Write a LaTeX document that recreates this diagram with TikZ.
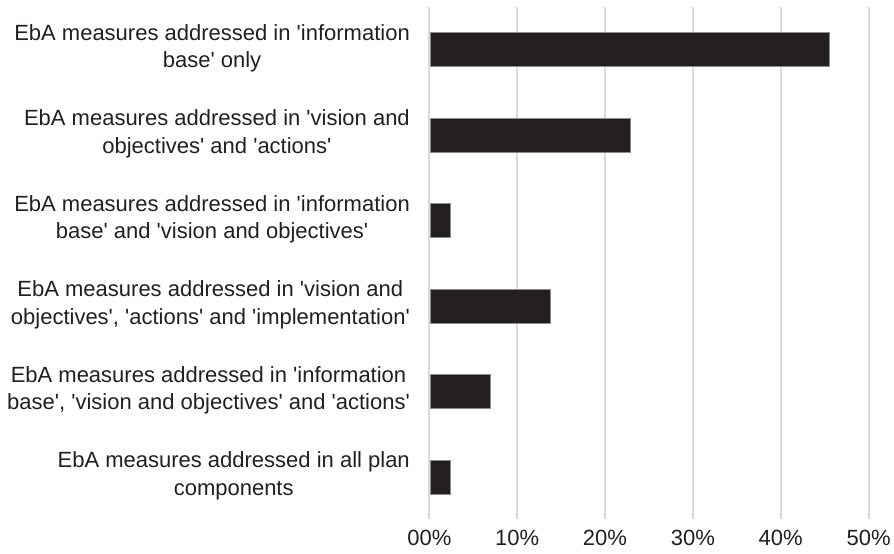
\documentclass[tikz,border=0pt]{standalone}
\usepackage{fontspec}
\newfontfamily\chartfont{Liberation Sans}
\definecolor{barblack}{HTML}{231F20}
\definecolor{gridgray}{HTML}{D9D9D9}
\begin{document}
\begin{tikzpicture} [x=1pt, y=-1pt, every node/.style={text=barblack, inner sep=0pt, font=\chartfont\fontsize{22}{27.5}\selectfont},
    catlabel/.style={anchor=east, align=center},
    bar/.style={fill=barblack, draw=black!45, line width=0.6pt}]
    \useasboundingbox (0,0) rectangle (894,554);
    % grid and axis labels
    \foreach \i/\t in {0/00,1/10,2/20,3/30,4/40,5/50} {
      \draw[gridgray, line width=2pt] (429.3+87.85*\i, 7) -- (429.3+87.85*\i, 519);
      \node[anchor=base] (tick\i) at (429.3+87.85*\i, 545.5) {\t\%};
    }
    % bars
    \foreach \v [count=\n] in {45.45, 22.73, 2.27, 13.64, 6.82, 2.27}
      \draw[bar] (430.5, 32.3+85.5*\n-85.5) rectangle ++(8.785*\v, 34);
    % categories
    \node[catlabel] (cat1) at (410, 48.5) {EbA measures addressed in 'information\\base' only};
    \node[catlabel] (cat2) at (410, 134) {EbA measures addressed in 'vision and\\objectives' and 'actions'};
    \node[catlabel] (cat3) at (410, 219.5) {EbA measures addressed in 'information\\base' and 'vision and objectives'};
    \node[catlabel] (cat4) at (410, 305) {EbA measures addressed in 'vision and\\objectives', 'actions' and 'implementation'};
    \node[catlabel] (cat5) at (410, 390.5) {EbA measures addressed in 'information\\base', 'vision and objectives' and 'actions'};
    \node[catlabel] (cat6) at (410, 476) {EbA measures addressed in all plan\\components};
  \end{tikzpicture}
\end{document}
